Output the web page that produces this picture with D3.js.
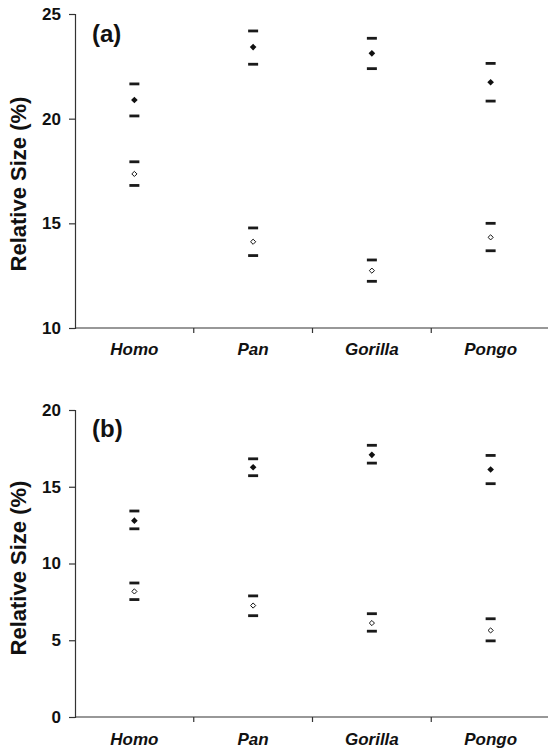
<!DOCTYPE html>
<html><head><meta charset="utf-8">
<script src="https://cdn.jsdelivr.net/npm/d3@7"></script>
<style>body{margin:0;background:#fff}svg{display:block}text{font-family:"Liberation Sans",Arial,sans-serif;font-weight:bold;fill:#111}</style>
</head><body><svg id="c" width="548" height="749"></svg>
<script>
const categories = ["Homo","Pan","Gorilla","Pongo"];
// panel (a)
const aFilledMean = [20.89, 23.42, 23.12, 21.74];
const aFilledUpper = [21.66, 24.19, 23.84, 22.64];
const aFilledLower = [20.13, 22.6, 22.39, 20.84];
const aOpenMean = [17.36, 14.12, 12.74, 14.33];
const aOpenUpper = [17.94, 14.78, 13.25, 15.0];
const aOpenLower = [16.81, 13.46, 12.23, 13.69];
const aTicks = [10, 15, 20, 25];
// panel (b)
const bFilledMean = [12.79, 16.27, 17.08, 16.12];
const bFilledUpper = [13.42, 16.82, 17.7, 17.04];
const bFilledLower = [12.26, 15.72, 16.54, 15.2];
const bOpenMean = [8.18, 7.26, 6.12, 5.64];
const bOpenUpper = [8.73, 7.89, 6.73, 6.4];
const bOpenLower = [7.65, 6.6, 5.59, 4.96];
const bTicks = [0, 5, 10, 15, 20];

const svg = d3.select("#c");
const x = d3.scaleBand().domain(categories).range([75, 550]).paddingInner(0).paddingOuter(0);

function panel(cfg){
  const y = d3.scaleLinear().domain(cfg.domain).range(cfg.range);
  const g = svg.append("g");
  const ya = g.append("g").attr("transform","translate(75,0)")
    .call(d3.axisLeft(y).tickValues(cfg.ticks).tickSize(6).tickPadding(8).tickFormat(d3.format("d")));
  ya.select(".domain").attr("stroke","#333").attr("stroke-width",1.2);
  ya.selectAll(".tick line").attr("stroke","#333").attr("stroke-width",1.2);
  ya.selectAll("text").style("font-size","17px").attr("fill","#111");
  const y0 = y(cfg.domain[0]);
  g.append("line").attr("x1",75).attr("x2",550).attr("y1",y0).attr("y2",y0).attr("stroke","#333").attr("stroke-width",1.2);
  const bounds = categories.map(c=>x(c)).concat([x.range()[1]]);
  g.selectAll(".xt").data(bounds.slice(1)).enter().append("line")
    .attr("x1",d=>d).attr("x2",d=>d).attr("y1",y0).attr("y2",y0+5).attr("stroke","#333").attr("stroke-width",1.2);
  g.selectAll(".xl").data(categories).enter().append("text")
    .attr("x",d=>x(d)+x.bandwidth()/2).attr("y",y0+cfg.labelDy)
    .attr("text-anchor","middle").style("font-size","17px").style("font-style","italic").text(d=>d);
  g.append("text").attr("transform",`translate(26,${cfg.titleY}) rotate(-90)`).attr("text-anchor","middle")
    .style("font-size","22px").text("Relative Size (%)");
  g.append("text").attr("x",92).attr("y",cfg.range[1]+cfg.lblDy).style("font-size","24px").text(cfg.label);
  const cx = d=>x(d)+x.bandwidth()/2;
  [cfg.fu, cfg.fl, cfg.ou, cfg.ol].forEach(arr=>{
    g.selectAll(null).data(categories).enter().append("line")
      .attr("x1",(d)=>cx(d)-5).attr("x2",(d)=>cx(d)+5)
      .attr("y1",(d,i)=>y(arr[i])).attr("y2",(d,i)=>y(arr[i]))
      .attr("stroke","#1a1a1a").attr("stroke-width",2.8);
  });
  const filled = d3.symbol().type(d3.symbolDiamond2).size(28);
  const open = d3.symbol().type(d3.symbolDiamond2).size(17);
  g.selectAll(null).data(categories).enter().append("path").attr("d",filled)
    .attr("transform",(d,i)=>`translate(${cx(d)},${y(cfg.fm[i])})`).attr("fill","#111");
  g.selectAll(null).data(categories).enter().append("path").attr("d",open)
    .attr("transform",(d,i)=>`translate(${cx(d)},${y(cfg.om[i])})`).attr("fill","#fff").attr("stroke","#111").attr("stroke-width",1);
}

panel({domain:[10,25], range:[328,14], ticks:aTicks, label:"(a)", lblDy:28, labelDy:27, titleY:184,
  fm:aFilledMean, fu:aFilledUpper, fl:aFilledLower, om:aOpenMean, ou:aOpenUpper, ol:aOpenLower});
panel({domain:[0,20], range:[717,410], ticks:bTicks, label:"(b)", lblDy:27, labelDy:28, titleY:568,
  fm:bFilledMean, fu:bFilledUpper, fl:bFilledLower, om:bOpenMean, ou:bOpenUpper, ol:bOpenLower});
</script></body></html>
